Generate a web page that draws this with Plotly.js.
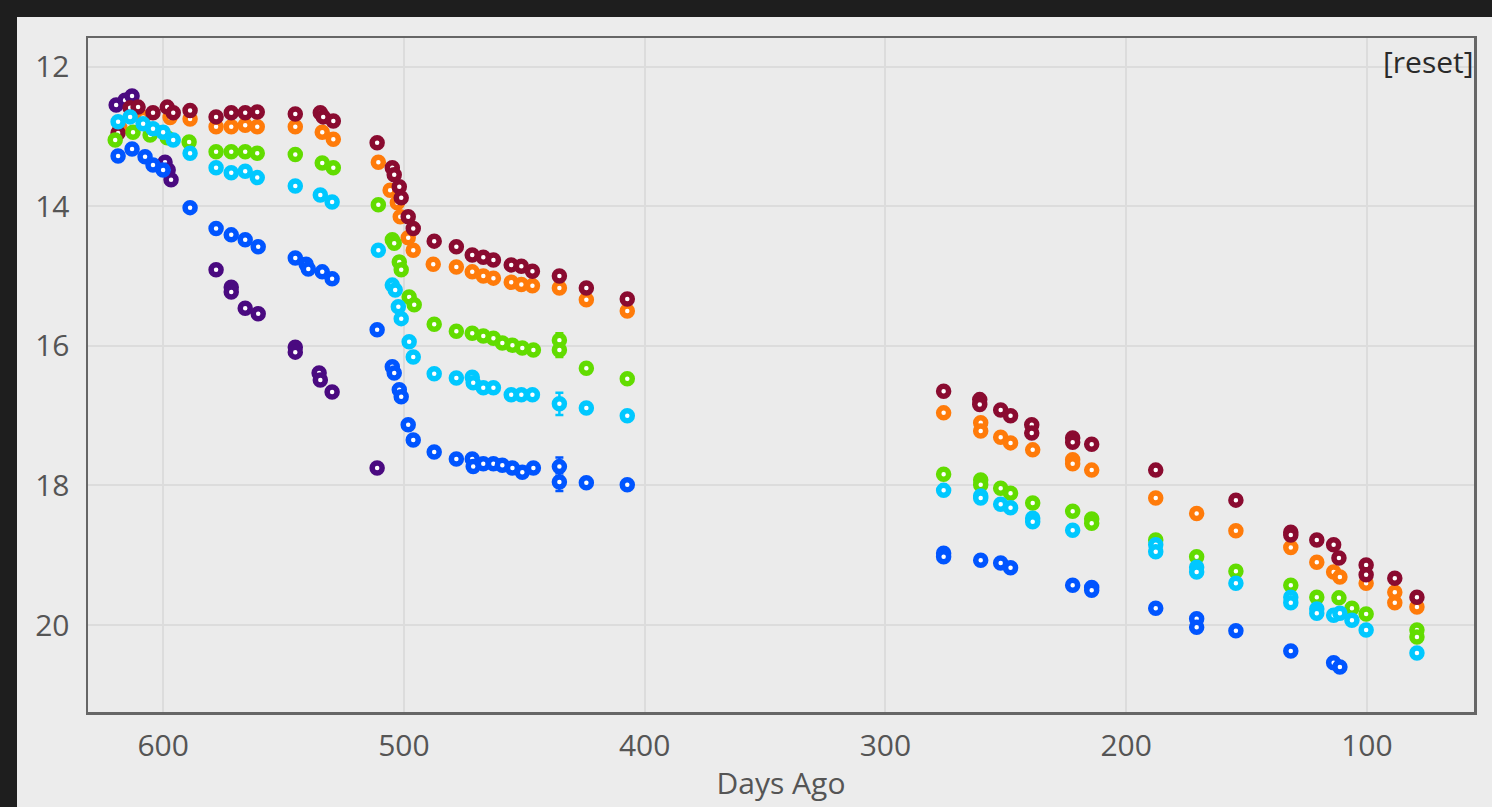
<!DOCTYPE html>
<html>
<head>
<meta charset="utf-8">
<script src="https://cdn.plot.ly/plotly-3.0.1.min.js"></script>
<style>
  html, body { margin: 0; padding: 0; background: #1e1e1e; width: 1492px; height: 807px; overflow: hidden; }
  #chart { position: absolute; left: 17px; top: 17px; width: 1475px; height: 790px; }
</style>
</head>
<body>
<div id="chart"></div>
<script>
// ---- data (days ago, magnitude) ----
const maroonDays = [618.7,613.7,610.4,604.2,598.3,595.8,588.8,578.0,571.7,565.9,560.9,545.1,534.7,533.5,529.3,511.1,504.8,504.0,501.9,501.1,498.2,496.1,487.4,478.2,471.6,467.0,462.8,455.4,451.2,446.6,435.4,424.2,407.2,275.8,260.8,260.8,252.1,248.0,239.2,239.2,222.2,222.2,214.3,187.7,154.4,131.6,131.6,120.8,113.8,111.6,100.3,100.3,88.4,79.2];
const maroonMag  = [12.95,12.59,12.58,12.66,12.58,12.66,12.63,12.72,12.66,12.66,12.65,12.68,12.66,12.72,12.78,13.09,13.45,13.55,13.72,13.88,14.15,14.32,14.50,14.58,14.70,14.73,14.77,14.84,14.86,14.93,15.00,15.17,15.33,16.65,16.77,16.84,16.92,17.00,17.13,17.25,17.32,17.38,17.41,17.78,18.21,18.67,18.71,18.78,18.85,19.04,19.14,19.28,19.33,19.60];

const orangeDays = [617.9,608.3,597.1,588.8,578.0,571.7,565.9,560.9,545.1,533.9,529.3,510.6,505.7,502.7,501.5,498.2,496.1,487.8,478.2,471.6,467.0,462.8,455.4,451.2,446.6,435.4,424.2,407.2,275.8,260.4,260.4,252.1,248.0,238.8,222.2,222.2,214.3,187.7,170.7,154.4,131.6,120.8,113.8,111.2,100.3,88.4,88.4,79.2];
const orangeMag  = [12.88,12.73,12.73,12.75,12.86,12.86,12.84,12.86,12.86,12.94,13.04,13.37,13.77,13.95,14.15,14.45,14.63,14.83,14.87,14.94,15.00,15.03,15.09,15.12,15.14,15.17,15.34,15.50,16.96,17.10,17.22,17.31,17.39,17.49,17.63,17.69,17.78,18.18,18.40,18.65,18.89,19.10,19.24,19.31,19.40,19.53,19.68,19.74];

const greenDays = [619.9,612.5,605.4,598.3,589.2,578.0,571.7,565.9,560.9,545.1,533.9,529.3,510.6,504.8,504.0,501.9,501.1,497.8,495.7,487.4,478.2,471.6,467.0,462.8,459.1,454.9,450.8,446.2,435.4,435.4,424.2,407.2,275.8,260.4,260.4,252.1,248.0,238.8,222.2,214.3,214.3,187.7,170.7,154.4,131.6,120.8,111.6,106.2,100.3,79.2,79.2];
const greenMag  = [13.05,12.94,12.98,13.02,13.08,13.22,13.22,13.22,13.24,13.26,13.38,13.45,13.98,14.48,14.53,14.80,14.91,15.30,15.41,15.69,15.79,15.82,15.86,15.89,15.96,15.99,16.03,16.06,15.92,16.06,16.32,16.47,17.84,17.92,17.99,18.04,18.11,18.25,18.37,18.48,18.54,18.78,19.02,19.23,19.43,19.60,19.61,19.76,19.84,20.07,20.17];
const greenErr  = [NaN,NaN,NaN,NaN,NaN,NaN,NaN,NaN,NaN,NaN,NaN,NaN,NaN,NaN,NaN,NaN,NaN,NaN,NaN,NaN,NaN,NaN,NaN,NaN,NaN,NaN,NaN,NaN,0.1,0.1,NaN,NaN,NaN,NaN,NaN,NaN,NaN,NaN,NaN,NaN,NaN,NaN,NaN,NaN,NaN,NaN,NaN,NaN,NaN,NaN,NaN];

const cyanDays = [618.7,613.7,608.3,604.2,600.0,595.8,588.8,578.0,571.7,565.9,560.9,545.1,534.7,529.8,510.6,504.8,503.6,502.3,501.1,497.8,496.1,487.4,478.2,471.6,471.2,467.0,462.8,455.4,451.2,446.6,435.4,424.2,407.2,275.8,260.4,260.4,252.1,248.0,238.8,238.8,222.2,187.7,187.7,170.7,170.7,154.4,131.6,131.6,120.8,120.8,113.8,111.2,106.2,100.3,79.2];
const cyanMag  = [12.79,12.72,12.82,12.89,12.94,13.05,13.24,13.45,13.52,13.50,13.59,13.71,13.84,13.94,14.63,15.13,15.20,15.44,15.61,15.94,16.16,16.40,16.46,16.45,16.53,16.60,16.60,16.70,16.70,16.70,16.83,16.89,17.00,18.07,18.15,18.18,18.27,18.32,18.47,18.52,18.64,18.85,18.95,19.17,19.24,19.40,19.60,19.68,19.77,19.83,19.86,19.83,19.93,20.07,20.40];
const cyanErr  = [NaN,NaN,NaN,NaN,NaN,NaN,NaN,NaN,NaN,NaN,NaN,NaN,NaN,NaN,NaN,NaN,NaN,NaN,NaN,NaN,NaN,NaN,NaN,NaN,NaN,NaN,NaN,NaN,NaN,NaN,0.16,NaN,NaN,NaN,NaN,NaN,NaN,NaN,NaN,NaN,NaN,NaN,NaN,NaN,NaN,NaN,NaN,NaN,NaN,NaN,NaN,NaN,NaN,NaN,NaN];

const blueDays = [618.7,612.9,607.5,604.2,600.0,588.8,578.0,571.7,565.9,560.5,545.1,540.6,539.7,533.9,529.8,511.1,504.8,504.0,501.9,501.1,498.2,496.1,487.4,478.2,471.6,471.2,467.0,462.8,459.1,454.9,450.8,446.2,435.4,435.4,424.2,407.2,275.8,275.8,260.4,252.1,248.0,222.2,214.3,214.3,187.7,170.7,170.7,154.4,131.6,113.8,111.2];
const blueMag  = [13.28,13.18,13.29,13.41,13.48,14.02,14.32,14.41,14.48,14.58,14.74,14.83,14.90,14.94,15.04,15.77,16.30,16.39,16.63,16.73,17.13,17.35,17.52,17.62,17.62,17.73,17.69,17.69,17.71,17.75,17.81,17.75,17.73,17.95,17.96,17.99,18.97,19.02,19.07,19.11,19.18,19.43,19.46,19.50,19.76,19.91,20.03,20.08,20.37,20.54,20.60];
const blueErr  = [NaN,NaN,NaN,NaN,NaN,NaN,NaN,NaN,NaN,NaN,NaN,NaN,NaN,NaN,NaN,NaN,NaN,NaN,NaN,NaN,NaN,NaN,NaN,NaN,NaN,NaN,NaN,NaN,NaN,NaN,NaN,NaN,0.13,0.13,NaN,NaN,NaN,NaN,NaN,NaN,NaN,NaN,NaN,NaN,NaN,NaN,NaN,NaN,NaN,NaN,NaN];

const purpleDays = [619.5,615.8,612.9,599.2,597.9,596.7,578.0,571.7,571.7,565.9,560.5,545.1,545.1,535.2,534.7,529.8,511.1];
const purpleMag  = [12.55,12.48,12.42,13.37,13.48,13.62,14.91,15.16,15.23,15.46,15.54,16.02,16.09,16.39,16.49,16.66,17.75];

const xTickVals = [600,500,400,300,200,100];
const yTickVals = [12,14,16,18,20];
const xTitle = "Days Ago";
const resetLabel = "[reset]";

// ---- styling ----
const colors = {
  maroon: "#8a0b30",
  orange: "#ff7b0a",
  green:  "#62dc00",
  cyan:   "#00c8ff",
  blue:   "#0055ff",
  purple: "#4a0a80"
};

function series(days, mag, color, err) {
  const t = {
    type: "scatter", mode: "markers", x: days, y: mag, showlegend: false, hoverinfo: "x+y",
    marker: { symbol: "circle", size: 10, color: "#ffffff", line: { color: color, width: 5.5 } }
  };
  if (err) {
    t.error_y = { type: "data", array: err, visible: true, color: color, thickness: 2.5, width: 4 };
  }
  return t;
}

const data = [
  series(purpleDays, purpleMag, colors.purple),
  series(orangeDays, orangeMag, colors.orange),
  series(maroonDays, maroonMag, colors.maroon),
  series(greenDays, greenMag, colors.green, greenErr),
  series(blueDays, blueMag, colors.blue, blueErr),
  series(cyanDays, cyanMag, colors.cyan, cyanErr)
];

const layout = {
  width: 1475, height: 790,
  margin: { l: 71, r: 18, t: 21, b: 95 },
  paper_bgcolor: "#ececec",
  plot_bgcolor: "#ebebeb",
  font: { family: "Open Sans, sans-serif", color: "#555555", size: 30 },
  xaxis: {
    range: [631.2, 55.5],
    tickvals: xTickVals,
    ticktext: xTickVals.map(String),
    showgrid: true, gridcolor: "#dcdcdc", gridwidth: 2,
    zeroline: false,
    showline: true, linecolor: "#666666", linewidth: 2.5, mirror: true,
    ticks: "",
    ticklabelstandoff: 5,
    tickfont: { size: 30, color: "#555555" },
    title: { text: xTitle, font: { size: 30, color: "#555555" }, standoff: 10 }
  },
  yaxis: {
    range: [21.245, 11.59],
    tickvals: yTickVals,
    ticktext: yTickVals.map(String),
    showgrid: true, gridcolor: "#dcdcdc", gridwidth: 2,
    zeroline: false,
    showline: true, linecolor: "#666666", linewidth: 2.5, mirror: true,
    ticks: "",
    ticklabelstandoff: 10,
    tickfont: { size: 30, color: "#555555" }
  },
  annotations: [{
    text: resetLabel, xref: "paper", yref: "paper", x: 1, y: 1,
    xanchor: "right", yanchor: "top", showarrow: false, xshift: 2, yshift: -1,
    font: { family: "Open Sans, sans-serif", size: 30, color: "#2a2a2a" }
  }]
};

Plotly.newPlot("chart", data, layout, { displayModeBar: false, staticPlot: true });
</script>
</body>
</html>
